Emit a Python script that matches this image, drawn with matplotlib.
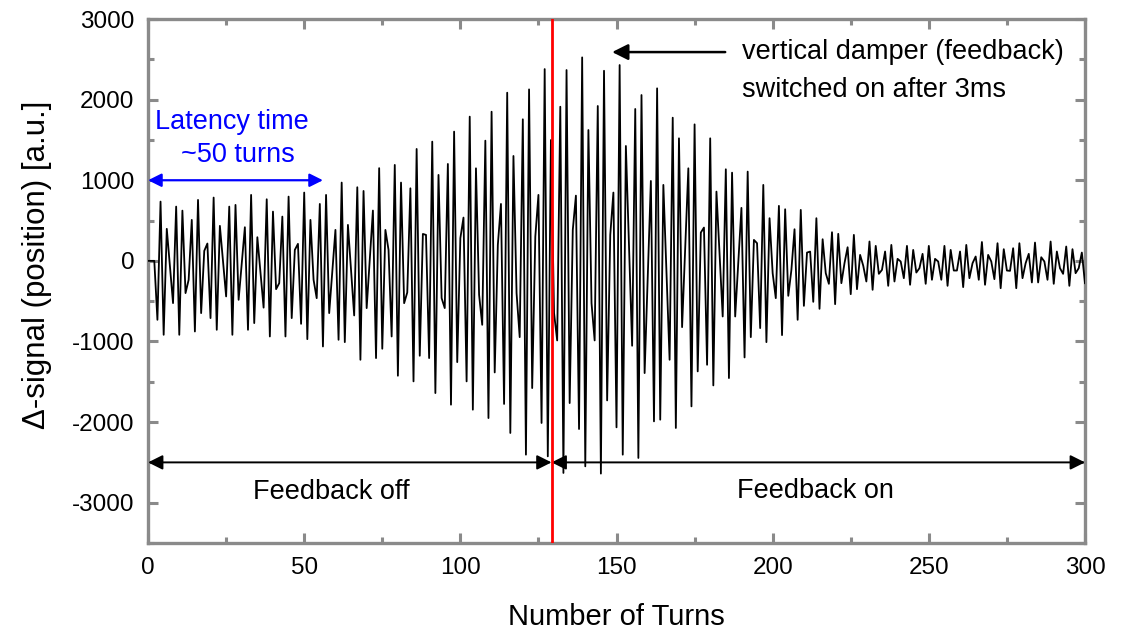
import numpy as np
import matplotlib.pyplot as plt
from matplotlib.ticker import MultipleLocator

plt.rcParams['font.family'] = ['Liberation Sans', 'DejaVu Sans']
plt.rcParams['axes.unicode_minus'] = False

# turn-by-turn position signal (one sample per turn), feedback off
signal_off = [
    0, 0, 0, -731, 735, -917, 397, -60, -524, 673,
    -917, 623, -400, -235, 508, -876, 756, -648, 124, 215,
    -710, 785, -855, 434, 0, -441, 673, -917, 694, -483,
    -30, 417, -855, 818, -772, 293, -150, -580, 764, -938,
    611, -351, -277, 549, -938, 797, -710, 136, 211, -781,
    847, -971, 508, -235, -463, 706, -1062, 818, -648, -130,
    384, -979, 971, -1008, 446, -115, -677, 913, -1227, 867,
    -586, 20, 624, -1206, 1150, -1090, 384, 136, -938, 1190,
    -1425, 971, -525, -392, 900, -1495, 1388, -1177, 334, 322,
    -1206, 1479, -1640, 1066, -462, -586, 1202, -1784, 1603, -1256,
    281, 537, -1495, 1789, -1846, 1148, -421, -793, 1491, -1950,
    1850, -1384, 198, 706, -1775, 2086, -2135, 1301, -401, -946,
    1756, -2404, 2127, -1578, 301, 818, -2011, 2379, -2425, 1499,
]

# feedback on: damped part of the signal
signal_on = [
    -648, -987, 1912, -2631, 2367, -1764, 384, 809, -2086, 2524,
    -2549, 1623, -525, -987, 1921, -2639, 2358, -1731, 322, 847,
    -2065, 2429, -2404, 1425, 200, -1053, 1884, -2445, 2057, -1392,
    -200, 991, -1991, 2140, -1970, 942, -150, -1227, 1776, -2073,
    1520, -822, 160, 1148, -1805, 1693, -1371, 351, 413, -1289,
    1520, -1545, 859, 80, -690, 1136, -1454, 1094, -690, -20,
    657, -1198, 1107, -946, 260, 219, -834, 942, -1008, 529,
    -153, -463, 682, -921, 640, -434, -112, 392, -731, 632,
    -558, 103, 115, -508, 529, -595, 268, -153, -285, 355,
    -537, 335, -277, -29, 169, -413, 322, -351, 74, -60,
    -256, 240, -359, 186, -161, -112, 116, -310, 198, -256,
    25, -8, -215, 186, -297, 136, -145, -91, 87, -285,
    186, -235, 25, -8, -235, 186, -310, 136, -120, -120,
    116, -326, 198, -215, -29, 54, -235, 234, -297, 74,
    -8, -227, 219, -339, 145, -120, -124, 157, -339, 219,
    -215, -29, 87, -268, 227, -268, 45, -8, -235, 240,
    -285, 116, -91, -161, 178, -310, 145, -153, -91, 103,
    -277,
]

signal = np.array(signal_off + signal_on)
turns = np.arange(len(signal))

feedback_turn = 129.2
frame_gray = '#8a8a8a'

fig = plt.figure(figsize=(11.31, 6.3), dpi=100)
ax = fig.add_axes([0.1309, 0.1381, 0.8284, 0.8317])

ax.plot(turns, signal, color='black', lw=1.3, zorder=3)
ax.axvline(feedback_turn, color='red', lw=2.0, zorder=4)

ax.set_xlim(0, 300)
ax.set_ylim(-3500, 3000)
ax.xaxis.set_major_locator(MultipleLocator(50))
ax.xaxis.set_minor_locator(MultipleLocator(25))
ax.yaxis.set_major_locator(MultipleLocator(1000))
ax.yaxis.set_minor_locator(MultipleLocator(500))
ax.set_yticks([-3000, -2000, -1000, 0, 1000, 2000, 3000])

for s in ax.spines.values():
    s.set_color(frame_gray)
    s.set_linewidth(2.4)
ax.tick_params(which='both', direction='in', top=True, right=True,
               color=frame_gray, width=2.2, labelsize=17.5, labelcolor='black')
ax.tick_params(which='major', length=7, pad=10)
ax.tick_params(which='minor', length=4)

ax.set_xlabel('Number of Turns', fontsize=21)
ax.xaxis.label.set_va('baseline')
ax.xaxis.set_label_coords(0.5, -0.156)
ax.set_ylabel('\u0394-signal (position) [a.u.]', fontsize=22.5)
ax.yaxis.set_label_coords(-0.103, 0.53)

# feedback off / on ranges
arrow_kw = dict(arrowstyle='<|-|>', color='black', lw=1.4,
                shrinkA=0, shrinkB=0, mutation_scale=22)
ax.annotate('', xy=(0, -2500), xytext=(feedback_turn, -2500), arrowprops=arrow_kw)
ax.annotate('', xy=(feedback_turn, -2500), xytext=(300, -2500), arrowprops=arrow_kw)
ax.text(58.6, -2870, 'Feedback off', fontsize=19.5, ha='center', va='center')
ax.text(213.6, -2850, 'Feedback on', fontsize=19.5, ha='center', va='center')

# latency of the damper
ax.annotate('', xy=(0, 1000), xytext=(56, 1000),
            arrowprops=dict(arrowstyle='<|-|>', color='blue', lw=1.6,
                            shrinkA=0, shrinkB=0, mutation_scale=20))
ax.text(26.9, 1722, 'Latency time', fontsize=19.5, color='blue', ha='center', va='center')
ax.text(28.8, 1313, '~50 turns', fontsize=19.5, color='blue', ha='center', va='center')

# damper switch-on note
ax.annotate('', xy=(148.6, 2590), xytext=(184.8, 2590),
            arrowprops=dict(arrowstyle='-|>', color='black', lw=1.8,
                            shrinkA=0, shrinkB=0, mutation_scale=24))
ax.text(190.2, 2590, 'vertical damper (feedback)', fontsize=19.5, ha='left', va='center')
ax.text(190.2, 2119, 'switched on after 3ms', fontsize=19.5, ha='left', va='center')

fig.savefig('out.png', dpi=100)
